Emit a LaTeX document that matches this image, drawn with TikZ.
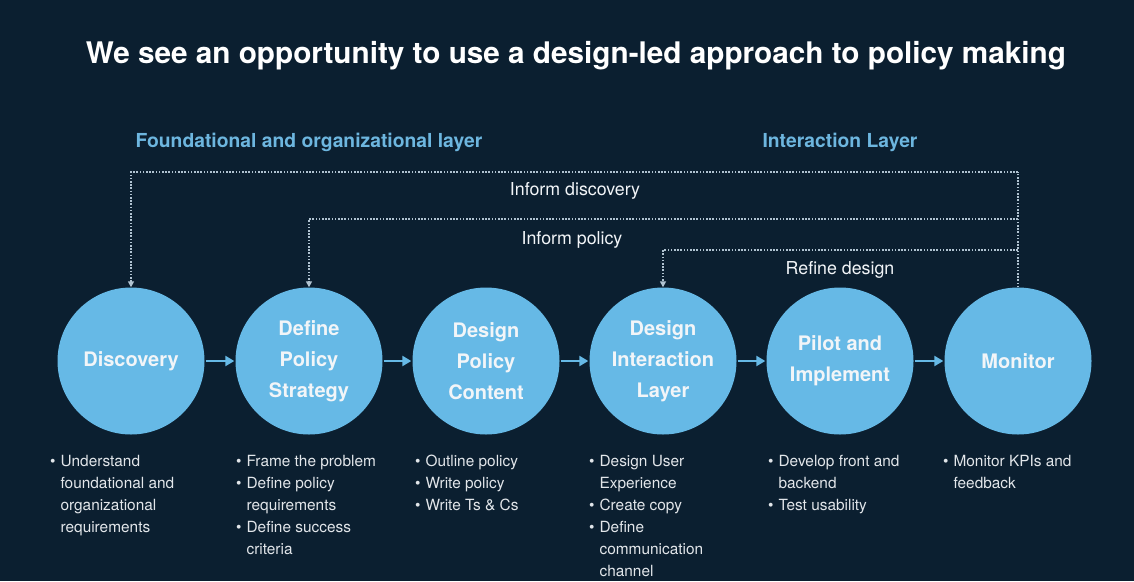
\documentclass[tikz,border=0pt]{standalone}
\usepackage{fontspec}
\setmainfont{TeX Gyre Heros}
\usetikzlibrary{arrows.meta}
\definecolor{bgnavy}{HTML}{0B1F30}
\definecolor{circblue}{HTML}{66B9E6}
\definecolor{layerblue}{HTML}{6DB6DF}
\definecolor{dotgray}{HTML}{B0C3D1}
\definecolor{txtwhite}{HTML}{F2F5F8}
\definecolor{bultxt}{HTML}{E2E6EA}
\begin{document}
\begin{tikzpicture}[x=1pt,y=-1pt,
  stagecircle/.style={circle,fill=circblue,draw=none,minimum size=147pt,inner sep=0pt,
    text=txtwhite,align=center,font=\bfseries\fontsize{20}{31}\selectfont},
  flowarrow/.style={draw=circblue,line width=2.6pt,-{Triangle[length=9pt,width=10pt]},shorten <=1pt,shorten >=1pt},
  feedback/.style={draw=dotgray,line width=1.7pt,dash pattern=on 1.6pt off 1.6pt,-{Triangle[length=6pt,width=6pt]}},
  feedplain/.style={draw=dotgray,line width=1.7pt,dash pattern=on 1.6pt off 1.6pt},
  looplabel/.style={text=txtwhite,font=\fontsize{17.8}{21}\selectfont,inner sep=0pt},
  layerlabel/.style={text=layerblue,font=\bfseries\fontsize{19.3}{23}\selectfont,inner sep=0pt},
  bullist/.style={text=bultxt,anchor=base west,inner sep=0pt,font=\fontsize{15.4}{22}\selectfont}
]
\fill[bgnavy] (0,0) rectangle (1134,581);
\useasboundingbox (0,0) rectangle (1134,581);

% title
\node[text=white,inner sep=0pt] (title) at (576,56)
  {\resizebox{980pt}{!}{\bfseries We see an opportunity to use a design-led approach to policy making}};

% layer labels
\node[layerlabel] (lay1) at (309,142) {Foundational and organizational layer};
\node[layerlabel] (lay2) at (840,142) {Interaction Layer};

% stage circles
\node[stagecircle] (d1) at (131,361) {Discovery};
\node[stagecircle] (d2) at (309,361) {Define\\Policy\\Strategy};
\node[stagecircle] (d3) at (486,361) {Design\\Policy\\Content};
\node[stagecircle] (d4) at (663,361) {Design\\Interaction\\Layer};
\node[stagecircle] (d5) at (840,361) {Pilot and\\Implement};
\node[stagecircle] (d6) at (1018,361) {Monitor};

% flow arrows
\draw[flowarrow] (d1) -- (d2);
\draw[flowarrow] (d2) -- (d3);
\draw[flowarrow] (d3) -- (d4);
\draw[flowarrow] (d4) -- (d5);
\draw[flowarrow] (d5) -- (d6);

% feedback loops
\coordinate (c1) at (1018,172);
\coordinate (c2) at (1018,219);
\coordinate (c3) at (1018,250);
\draw[feedplain] (d6.north) -- (c1);
\draw[feedback] (c1) -| (d1.north);
\draw[feedback] (c2) -| (d2.north);
\draw[feedback] (c3) -| (d4.north);

\node[looplabel] (l1) at (575,191) {Inform discovery};
\node[looplabel] (l2) at (572,240) {Inform policy};
\node[looplabel] (l3) at (840,270) {Refine design};

% bullet lists
\node[bullist] (b1) at (50,466) {\begin{tabular}[t]{@{}l@{\hspace{5pt}}l@{}}
\textbullet & Understand\\ & foundational and\\ & organizational\\ & requirements\end{tabular}};
\node[bullist] (b2) at (236,466) {\begin{tabular}[t]{@{}l@{\hspace{5pt}}l@{}}
\textbullet & Frame the problem\\ \textbullet & Define policy\\ & requirements\\ \textbullet & Define success\\ & criteria\end{tabular}};
\node[bullist] (b3) at (415,466) {\begin{tabular}[t]{@{}l@{\hspace{5pt}}l@{}}
\textbullet & Outline policy\\ \textbullet & Write policy\\ \textbullet & Write Ts \& Cs\end{tabular}};
\node[bullist] (b4) at (589,466) {\begin{tabular}[t]{@{}l@{\hspace{5pt}}l@{}}
\textbullet & Design User\\ & Experience\\ \textbullet & Create copy\\ \textbullet & Define\\ & communication\\ & channel\end{tabular}};
\node[bullist] (b5) at (768,466) {\begin{tabular}[t]{@{}l@{\hspace{5pt}}l@{}}
\textbullet & Develop front and\\ & backend\\ \textbullet & Test usability\end{tabular}};
\node[bullist] (b6) at (943,466) {\begin{tabular}[t]{@{}l@{\hspace{5pt}}l@{}}
\textbullet & Monitor KPIs and\\ & feedback\end{tabular}};
\end{tikzpicture}
\end{document}
